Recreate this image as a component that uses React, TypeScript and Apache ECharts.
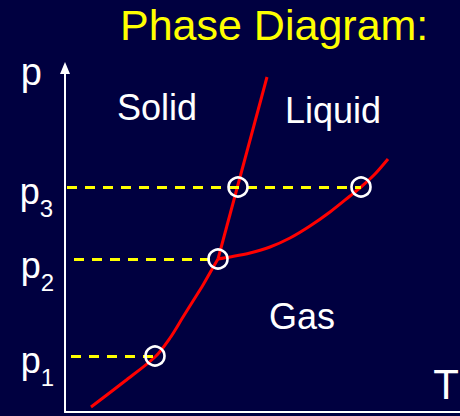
import React, { useEffect, useRef } from "react";
import * as echarts from "echarts";

// Data units: T (horizontal), p (vertical), arbitrary units
const T_MAX = 395;
const P_MAX = 344;

const sublimationCurve: [number, number][] = [
  [26, 5], [60, 31], [90, 55], [105, 74], [118, 95], [128, 111], [138, 127], [146, 141], [153, 153],
];
const meltingCurve: [number, number][] = [
  [153, 153], [202, 335],
];
const vaporizationCurve: [number, number][] = [
  [153, 153], [165, 155], [185, 159], [205, 165], [225, 174], [245, 186], [265, 200], [285, 216], [296, 225], [310, 238], [323, 253],
];

const pressureLevels = [56, 153, 225];
const pressureSubs = ["1", "2", "3"];
const dashStartT = [6, 9, 2];
const dashEndT = [90, 153, 296];
const labelDistance = [17, 20, 14];
const labelOffsetY = [4, 6, 4];

const markedPoints: [number, number][] = [
  [90, 56], [153, 153], [173, 225], [296, 225],
];

const regionNames = ["Solid", "Liquid", "Gas"];
const regionPos: [number, number][] = [[92, 305], [268, 302], [237, 96]];

const FONT = "'Liberation Sans', Arial, Helvetica, sans-serif";
const BG = "#000040";

export default function App() {
  const ref = useRef<HTMLDivElement>(null);
  useEffect(() => {
    document.body.style.margin = "0";
    document.body.style.background = BG;
    const chart = echarts.init(ref.current!, undefined, { renderer: "svg" });
    const redLine = { color: "#ff0000", width: 3 };
    chart.setOption({
      animation: false,
      backgroundColor: BG,
      title: {
        text: "Phase Diagram:",
        left: 120,
        top: 3,
        padding: 0,
        textStyle: { color: "#ffff00", fontSize: 43, fontWeight: "normal", fontFamily: FONT },
      },
      grid: { left: 65, right: 0, top: 68, bottom: 4, containLabel: false, outerBoundsMode: "none" },
      xAxis: {
        type: "value",
        min: 0,
        max: T_MAX,
        name: "T",
        nameLocation: "end",
        nameGap: 0,
        nameTextStyle: {
          color: "#fff", fontSize: 42, fontFamily: FONT, align: "right", verticalAlign: "bottom",
          padding: [0, 1, 7, 0],
        },
        axisLine: { show: true, lineStyle: { color: "#fff", width: 2 } },
        axisTick: { show: false },
        axisLabel: { show: false },
        splitLine: { show: false },
      },
      yAxis: {
        type: "value",
        min: 0,
        max: P_MAX,
        name: "p",
        nameLocation: "end",
        nameGap: 15,
        nameTextStyle: {
          color: "#fff", fontSize: 38, fontFamily: FONT, align: "right", verticalAlign: "top",
          padding: [0, 23, 0, 0],
        },
        axisLine: {
          show: true,
          symbol: ["none", "triangle"],
          symbolSize: [10, 12],
          lineStyle: { color: "#fff", width: 2 },
        },
        axisTick: { show: false },
        axisLabel: { show: false },
        splitLine: { show: false },
      },
      series: [
        {
          type: "line",
          data: [],
          silent: true,
          markLine: {
            silent: true,
            symbol: ["none", "none"],
            lineStyle: { color: "#ffff00", width: 3, type: [10, 8], opacity: 1 },
            label: {
              show: true,
              position: "start",
              color: "#fff",
              fontFamily: FONT,
              rich: {
                p: { fontSize: 36, lineHeight: 36, verticalAlign: "top", color: "#fff", fontFamily: FONT },
                s: { fontSize: 24, lineHeight: 24, verticalAlign: "top", padding: [23, 0, 0, 0], color: "#fff", fontFamily: FONT },
              },
            },
            data: pressureLevels.map((p, i) => [
              {
                coord: [dashStartT[i], p],
                label: {
                  formatter: "{p|p}{s|" + pressureSubs[i] + "}",
                  distance: labelDistance[i],
                  offset: [0, labelOffsetY[i]],
                },
              },
              { coord: [dashEndT[i], p] },
            ]),
          },
        },
        { type: "line", data: sublimationCurve, smooth: 0.3, symbol: "none", lineStyle: redLine },
        { type: "line", data: meltingCurve, symbol: "none", lineStyle: redLine },
        { type: "line", data: vaporizationCurve, smooth: 0.3, symbol: "none", lineStyle: redLine },
        {
          type: "scatter",
          data: markedPoints,
          symbol: "circle",
          symbolSize: 19,
          z: 5,
          itemStyle: { color: "transparent", borderColor: "#ffffff", borderWidth: 2.6, opacity: 1 },
        },
        {
          type: "scatter",
          data: regionNames.map((n, i) => ({ name: n, value: regionPos[i] })),
          symbolSize: 0,
          itemStyle: { opacity: 1 },
          label: {
            show: true,
            position: "inside",
            formatter: "{b}",
            color: "#ffffff",
            opacity: 1,
            fontSize: 36,
            fontFamily: FONT,
          },
        },
      ],
    });
    return () => chart.dispose();
  }, []);
  return <div ref={ref} style={{ width: 460, height: 416 }} />;
}
